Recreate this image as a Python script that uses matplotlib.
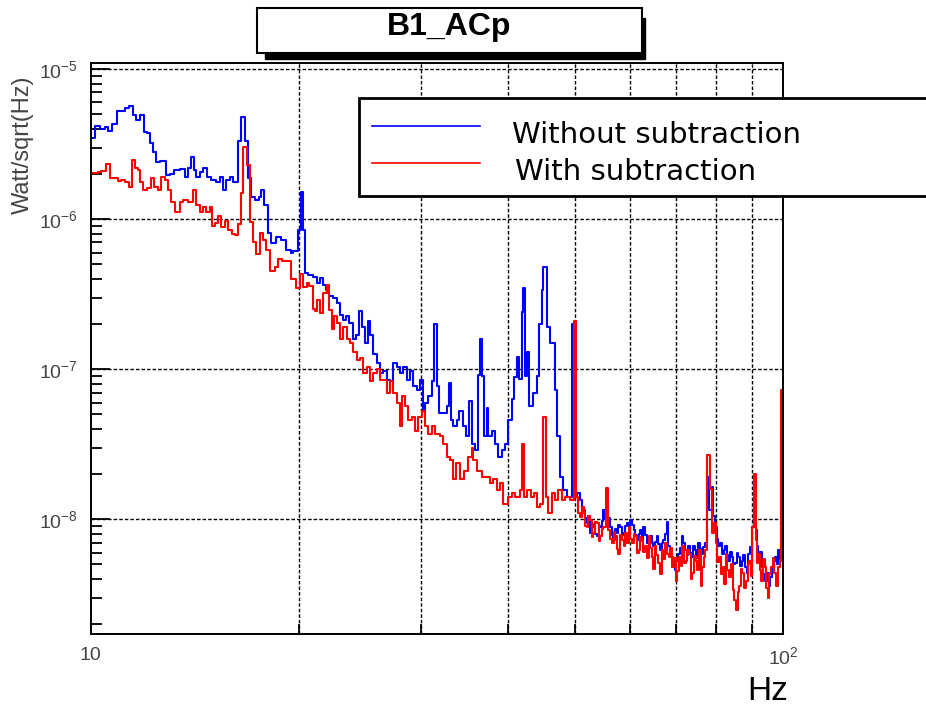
import matplotlib
matplotlib.use("Agg")
import matplotlib.pyplot as plt
from matplotlib.patches import Rectangle
from matplotlib.ticker import LogLocator, NullFormatter, FixedLocator, FixedFormatter

plt.rcParams['font.family'] = ['Liberation Sans', 'DejaVu Sans']
plt.rcParams['mathtext.fontset'] = 'custom'
plt.rcParams['mathtext.rm'] = 'Liberation Sans'
plt.rcParams['mathtext.it'] = 'Liberation Sans:italic'
plt.rcParams['mathtext.bf'] = 'Liberation Sans:bold'

# x tick labels
xtick_pos = [10, 100]
xtick_labels = ['10', '$10^{2}$']

# bin edges (Hz) and levels (Watt/sqrt(Hz))
blue_f = [10.0, 10.13, 10.3, 10.47, 10.6, 10.73, 10.92, 11.2, 11.35, 11.5, 11.64, 11.77, 11.94,
          12.07, 12.17, 12.3, 12.44, 12.58, 12.86, 13.0, 13.19, 13.44, 13.66, 13.82, 13.97, 14.09,
          14.2, 14.36, 14.52, 14.73, 14.93, 15.18, 15.35, 15.52, 15.7, 15.87, 16.05, 16.32, 16.5,
          16.68, 16.87, 17.05, 17.24, 17.47, 17.63, 17.82, 18.03, 18.22, 18.53, 18.83, 19.15, 19.47,
          19.6, 19.95, 20.1, 20.28, 20.39, 20.62, 20.96, 21.2, 21.44, 21.67, 21.87, 22.11, 22.35,
          22.65, 22.9, 23.11, 23.36, 23.63, 23.9, 24.17, 24.36, 24.62, 24.92, 25.12, 25.31, 25.59,
          25.88, 26.17, 26.46, 26.76, 27.05, 27.35, 27.66, 27.97, 28.27, 28.59, 28.9, 29.23, 29.55,
          29.88, 30.15, 30.38, 30.73, 31.08, 31.3, 31.65, 31.86, 32.66, 32.94, 33.09, 33.38, 33.76,
          34.06, 34.44, 34.83, 35.21, 35.53, 35.89, 36.28, 36.49, 36.73, 36.98, 37.31, 37.51, 37.93,
          38.35, 38.77, 39.21, 39.64, 40.09, 40.54, 40.85, 41.22, 41.57, 41.91, 42.1, 42.37, 42.7,
          42.98, 43.55, 44.06, 44.44, 44.8, 45.03, 45.63, 46.04, 46.81, 47.17, 47.6, 48.12, 48.67,
          49.6, 49.85, 50.3, 50.9, 51.2, 51.5, 51.8, 52.0, 52.3, 52.6, 52.9, 53.2, 53.5, 53.8, 54.1,
          54.4, 54.7, 55.0, 55.3, 55.6, 55.9, 56.2, 56.5, 56.8, 57.2, 57.5, 57.8, 58.1, 58.5, 58.8,
          59.1, 59.4, 59.8, 60.1, 60.4, 60.8, 61.1, 61.4, 61.8, 62.1, 62.5, 62.8, 63.2, 63.5, 63.9,
          64.2, 64.6, 64.9, 65.3, 65.7, 66.0, 66.4, 66.8, 67.1, 67.5, 67.9, 68.2, 68.6, 69.0, 69.4,
          69.8, 70.1, 70.5, 70.9, 71.3, 71.7, 72.1, 72.5, 72.9, 73.3, 73.7, 74.1, 74.5, 74.9, 75.3,
          75.8, 76.2, 76.6, 77.0, 77.7, 78.2, 78.8, 79.2, 79.7, 80.1, 80.6, 81.0, 81.5, 82.0, 82.4,
          82.9, 83.3, 83.8, 84.2, 84.7, 85.2, 85.6, 86.1, 86.6, 87.1, 87.5, 88.0, 88.5, 89.0, 89.5,
          90.0, 90.7, 91.3, 91.6, 92.0, 92.5, 93.1, 93.6, 94.1, 94.6, 95.2, 95.7, 96.2, 96.8, 97.3,
          97.9, 98.4, 98.9, 99.3]
blue_v = [3.5e-6, 4.2e-6, 4.0e-6, 4.1e-6, 3.85e-6, 4.3e-6, 5.3e-6, 5.5e-6, 5.7e-6, 4.95e-6, 4.6e-6,
          4.95e-6, 3.8e-6, 3.75e-6, 3.2e-6, 2.8e-6, 2.4e-6, 2.45e-6, 1.97e-6, 2.0e-6, 2.13e-6,
          2.15e-6, 1.92e-6, 2.2e-6, 2.6e-6, 2.13e-6, 1.9e-6, 2.05e-6, 2.2e-6, 1.92e-6, 1.83e-6,
          1.78e-6, 1.9e-6, 1.57e-6, 1.83e-6, 1.9e-6, 1.78e-6, 3.3e-6, 4.8e-6, 3.3e-6, 1.87e-6,
          1.41e-6, 1.34e-6, 1.41e-6, 1.57e-6, 1.25e-6, 8.1e-7, 6.9e-7, 7.6e-7, 7.3e-7, 6.25e-7,
          6.0e-7, 6.1e-7, 8.5e-7, 1.53e-6, 8.5e-7, 4.35e-7, 4.25e-7, 4.15e-7, 3.75e-7, 4.05e-7,
          3.65e-7, 3.4e-7, 3.1e-7, 2.97e-7, 2.76e-7, 2.3e-7, 2.13e-7, 2.25e-7, 2.03e-7, 1.58e-7,
          1.7e-7, 2.43e-7, 1.9e-7, 1.5e-7, 2.1e-7, 1.7e-7, 1.27e-7, 1.1e-7, 9.4e-8, 9.7e-8, 8.5e-8,
          8.3e-8, 1.1e-7, 1.03e-7, 9.4e-8, 1.03e-7, 8.5e-8, 9.7e-8, 7.7e-8, 7.3e-8, 8.5e-8, 5.3e-8,
          6.0e-8, 6.6e-8, 8.3e-8, 2.0e-7, 7.7e-8, 5.1e-8, 5.7e-8, 8.1e-8, 4.6e-8, 4.2e-8, 4.6e-8,
          5.3e-8, 4.2e-8, 3.6e-8, 6.1e-8, 3.2e-8, 2.9e-8, 9.2e-8, 1.6e-7, 9.0e-8, 3.6e-8, 5.5e-8,
          3.6e-8, 3.9e-8, 3.2e-8, 2.6e-8, 2.9e-8, 3.2e-8, 4.6e-8, 6.3e-8, 8.9e-8, 1.2e-7, 8.6e-8,
          2.4e-7, 3.5e-7, 9.0e-8, 1.3e-7, 5.7e-8, 6.9e-8, 9.0e-8, 2.0e-7, 3.4e-7, 4.8e-7, 1.9e-7,
          1.5e-7, 7.3e-8, 3.6e-8, 1.9e-8, 1.58e-8, 1.4e-8, 2.0e-7, 1.42e-8, 1.5e-8, 1.35e-8,
          1.2e-8, 1.15e-8, 1.02e-8, 9.4e-9, 1.06e-8, 8.1e-9, 9.3e-9, 8.9e-9, 8.0e-9, 7.7e-9, 9.0e-9,
          8.9e-9, 9.8e-9, 1.15e-8, 1.0e-8, 1.35e-8, 1.02e-8, 8.9e-9, 7.9e-9, 7.3e-9, 8.6e-9, 8.1e-9,
          9.2e-9, 8.9e-9, 7.8e-9, 8.1e-9, 9.0e-9, 9.4e-9, 8.4e-9, 9.9e-9, 9.2e-9, 8.5e-9, 7.8e-9,
          7.3e-9, 8.0e-9, 8.5e-9, 7.2e-9, 8.9e-9, 7.9e-9, 6.9e-9, 7.4e-9, 7.7e-9, 6.9e-9, 6.6e-9,
          7.1e-9, 7.7e-9, 6.8e-9, 6.2e-9, 6.9e-9, 7.3e-9, 8.0e-9, 9.6e-9, 6.6e-9, 6.1e-9, 5.6e-9,
          5.0e-9, 4.6e-9, 5.3e-9, 5.9e-9, 6.4e-9, 7.7e-9, 6.9e-9, 6.2e-9, 5.8e-9, 6.6e-9, 6.0e-9,
          5.6e-9, 6.6e-9, 6.2e-9, 5.5e-9, 6.9e-9, 6.3e-9, 5.9e-9, 6.5e-9, 6.9e-9, 1.92e-8, 1.15e-8,
          1.65e-8, 1.05e-8, 8.9e-9, 7.4e-9, 6.6e-9, 7.0e-9, 5.9e-9, 6.2e-9, 6.6e-9, 5.8e-9, 5.3e-9,
          6.1e-9, 5.6e-9, 5.0e-9, 5.1e-9, 6.0e-9, 5.6e-9, 4.9e-9, 5.3e-9, 5.8e-9, 4.8e-9, 4.4e-9,
          5.9e-9, 6.5e-9, 8.9e-9, 1.98e-8, 8.5e-9, 6.6e-9, 5.6e-9, 6.1e-9, 4.8e-9, 4.3e-9, 3.9e-9,
          4.4e-9, 3.6e-9, 4.1e-9, 4.8e-9, 5.3e-9, 5.6e-9, 5.0e-9, 6.2e-9, 5.4e-9, 3.6e-8]

red_f = [10.0, 10.24, 10.36, 10.53, 10.65, 10.95, 11.07, 11.19, 11.35, 11.47, 11.58, 11.7, 11.77,
         11.9, 12.07, 12.23, 12.34, 12.5, 12.62, 12.81, 12.93, 13.05, 13.22, 13.44, 13.59, 13.82,
         14.05, 14.2, 14.36, 14.52, 14.68, 14.85, 14.96, 15.13, 15.27, 15.44, 15.62, 15.79, 15.97,
         16.15, 16.32, 16.47, 16.6, 16.83, 16.97, 17.15, 17.34, 17.53, 17.73, 17.93, 18.13, 18.44,
         18.65, 18.9, 19.48, 19.81, 20.05, 20.28, 20.5, 20.69, 20.92, 21.08, 21.24, 21.44, 21.67,
         21.91, 22.11, 22.3, 22.45, 22.65, 22.9, 23.15, 23.42, 23.68, 23.94, 24.21, 24.48, 24.75,
         25.03, 25.31, 25.59, 25.88, 26.17, 26.76, 27.05, 27.35, 27.66, 27.97, 28.12, 28.43, 28.74,
         29.07, 29.39, 29.72, 30.06, 30.38, 30.73, 31.08, 31.41, 31.93, 32.3, 32.66, 33.02, 33.38,
         33.68, 34.13, 34.59, 35.1, 35.49, 35.69, 36.16, 36.69, 37.71, 38.13, 38.56, 38.99, 39.42,
         40.09, 40.54, 41.0, 41.69, 41.91, 42.27, 42.7, 43.18, 43.65, 44.13, 44.54, 45.03, 45.43,
         45.78, 46.3, 46.81, 47.33, 47.86, 48.39, 49.2, 49.8, 50.25, 50.6, 50.9, 51.2, 51.5, 51.8,
         52.0, 52.3, 52.6, 52.9, 53.2, 53.5, 53.8, 54.1, 54.4, 54.7, 55.0, 55.4, 55.9, 56.2, 56.5,
         56.9, 57.2, 57.5, 57.8, 58.1, 58.4, 58.8, 59.1, 59.4, 59.8, 60.1, 60.4, 60.8, 61.1, 61.5,
         61.8, 62.1, 62.5, 62.8, 63.2, 63.5, 63.9, 64.2, 64.6, 64.9, 65.3, 65.6, 66.0, 66.4, 66.8,
         67.1, 67.5, 67.9, 68.3, 68.7, 69.1, 69.5, 69.9, 70.3, 70.7, 71.1, 71.5, 71.9, 72.3, 72.7,
         73.1, 73.5, 73.9, 74.3, 74.7, 75.1, 75.5, 76.0, 76.4, 76.8, 77.2, 77.7, 78.3, 78.8, 79.3,
         79.9, 80.3, 80.8, 81.2, 81.7, 82.1, 82.6, 83.0, 83.5, 84.0, 84.5, 84.9, 85.4, 85.9, 86.4,
         86.8, 87.3, 87.8, 88.3, 88.8, 89.3, 89.8, 90.2, 90.8, 91.3, 91.7, 92.0, 92.5, 93.0, 93.5,
         94.0, 94.5, 95.0, 95.5, 96.0, 96.5, 97.0, 97.6, 98.2, 98.8, 99.3]
red_v = [2.03e-6, 2.08e-6, 2.1e-6, 2.33e-6, 1.88e-6, 1.8e-6, 1.84e-6, 1.78e-6, 1.65e-6, 2.48e-6,
         2.19e-6, 2.13e-6, 1.76e-6, 1.57e-6, 1.62e-6, 1.88e-6, 1.65e-6, 1.57e-6, 1.9e-6, 1.84e-6,
         1.57e-6, 1.31e-6, 1.12e-6, 1.31e-6, 1.34e-6, 1.31e-6, 1.57e-6, 1.25e-6, 1.11e-6, 1.2e-6,
         1.12e-6, 1.2e-6, 9.0e-7, 9.5e-7, 1.05e-6, 8.9e-7, 9.7e-7, 8.5e-7, 8.0e-7, 7.9e-7, 9.3e-7,
         1.49e-6, 3.05e-6, 2.3e-6, 9.6e-7, 7.1e-7, 5.9e-7, 8.1e-7, 7.3e-7, 6.25e-7, 4.5e-7, 4.8e-7,
         5.4e-7, 5.3e-7, 4.0e-7, 3.5e-7, 4.3e-7, 3.55e-7, 3.75e-7, 3.6e-7, 2.53e-7, 2.43e-7, 2.9e-7,
         2.37e-7, 3.2e-7, 3.65e-7, 2.5e-7, 1.85e-7, 2.25e-7, 2.03e-7, 1.6e-7, 1.9e-7, 1.58e-7,
         1.5e-7, 1.3e-7, 1.15e-7, 1.18e-7, 9.4e-8, 1.03e-7, 8.3e-8, 9.4e-8, 1.0e-7, 8.5e-8, 6.9e-8,
         8.3e-8, 6.9e-8, 6.0e-8, 4.2e-8, 6.6e-8, 5.7e-8, 4.6e-8, 4.8e-8, 3.9e-8, 4.8e-8, 5.3e-8,
         4.2e-8, 3.7e-8, 4.2e-8, 3.7e-8, 3.6e-8, 3.2e-8, 2.6e-8, 2.5e-8, 1.85e-8, 2.36e-8, 1.85e-8,
         2.1e-8, 2.6e-8, 3.0e-8, 2.5e-8, 2.1e-8, 1.9e-8, 1.75e-8, 1.85e-8, 1.58e-8, 1.75e-8,
         1.27e-8, 1.4e-8, 1.5e-8, 1.4e-8, 1.58e-8, 3.2e-8, 1.4e-8, 1.58e-8, 1.4e-8, 1.5e-8, 1.2e-8,
         1.27e-8, 4.8e-8, 1.4e-8, 1.1e-8, 1.5e-8, 1.35e-8, 1.58e-8, 1.35e-8, 1.4e-8, 1.35e-8,
         2.1e-7, 1.4e-8, 1.1e-8, 1.04e-8, 1.2e-8, 1.1e-8, 9.0e-9, 8.9e-9, 1.05e-8, 9.9e-9, 7.6e-9,
         8.1e-9, 9.6e-9, 9.4e-9, 7.2e-9, 7.7e-9, 8.6e-9, 8.9e-9, 1.61e-8, 8.5e-9, 7.4e-9, 6.9e-9,
         8.2e-9, 7.7e-9, 6.3e-9, 5.9e-9, 7.8e-9, 7.3e-9, 6.6e-9, 8.1e-9, 7.0e-9, 8.9e-9, 7.4e-9,
         6.9e-9, 8.0e-9, 7.7e-9, 6.0e-9, 6.2e-9, 7.6e-9, 7.3e-9, 6.1e-9, 6.6e-9, 5.5e-9, 7.7e-9,
         6.4e-9, 5.6e-9, 4.7e-9, 6.6e-9, 5.8e-9, 5.1e-9, 4.3e-9, 6.2e-9, 5.4e-9, 6.9e-9, 5.9e-9,
         5.6e-9, 6.4e-9, 4.8e-9, 5.5e-9, 3.9e-9, 4.5e-9, 5.6e-9, 4.9e-9, 6.6e-9, 5.1e-9, 5.3e-9,
         6.2e-9, 5.9e-9, 4.0e-9, 4.4e-9, 5.7e-9, 5.3e-9, 4.6e-9, 6.2e-9, 3.6e-9, 4.8e-9, 5.6e-9,
         6.2e-9, 2.7e-8, 1.6e-8, 8.1e-9, 9.5e-9, 6.9e-9, 5.2e-9, 5.6e-9, 4.3e-9, 4.8e-9, 3.7e-9,
         5.9e-9, 4.6e-9, 4.1e-9, 5.0e-9, 3.4e-9, 2.9e-9, 2.5e-9, 3.3e-9, 3.6e-9, 4.7e-9, 4.4e-9,
         3.5e-9, 3.9e-9, 5.0e-9, 5.3e-9, 4.2e-9, 8.9e-9, 2.0e-8, 7.3e-9, 5.1e-9, 5.9e-9, 4.6e-9,
         3.9e-9, 5.4e-9, 4.8e-9, 3.5e-9, 3.0e-9, 4.3e-9, 4.8e-9, 5.5e-9, 4.4e-9, 3.6e-9, 4.8e-9,
         5.3e-9, 7.3e-8]

fig = plt.figure(figsize=(9.26, 7.08), dpi=100)
W, H = 926, 708
ax = fig.add_axes([90.7 / W, 1 - 634 / H, (783.3 - 90.7) / W, (634 - 63) / H])

ax.step(blue_f + [100], blue_v + [blue_v[-1]], where='post', color='#0000ff', lw=1.5)
ax.step(red_f + [100], red_v + [red_v[-1]], where='post', color='#ff0000', lw=1.5)

ax.set_xscale('log')
ax.set_yscale('log')
ax.set_xlim(10, 100)
ax.set_ylim(1.72e-9, 1.1e-5)

ax.xaxis.set_major_locator(FixedLocator(xtick_pos))
ax.xaxis.set_major_formatter(FixedFormatter(xtick_labels))
ax.xaxis.set_minor_locator(LogLocator(base=10, subs=range(2, 10)))
ax.xaxis.set_minor_formatter(NullFormatter())
ax.yaxis.set_major_locator(LogLocator(base=10))
ax.yaxis.set_minor_locator(LogLocator(base=10, subs=range(2, 10), numticks=20))
ax.yaxis.set_minor_formatter(NullFormatter())

grid_style = dict(color='black', lw=1.0, ls=(0, (2.5, 1.5)))
ax.grid(True, which='major', axis='y', **grid_style)
ax.grid(True, which='minor', axis='x', **grid_style)

ax.tick_params(axis='y', which='major', direction='in', length=14, width=1.3, pad=9,
               labelsize=14, labelcolor='#444444', right=False)
ax.tick_params(axis='y', which='minor', direction='in', length=8, width=1.3, right=False)
ax.tick_params(axis='x', which='major', direction='in', length=8, width=1.3, pad=9,
               labelsize=14, labelcolor='#444444', top=False)
ax.tick_params(axis='x', which='minor', direction='in', length=7, width=1.3, top=False)
for sp in ax.spines.values():
    sp.set_linewidth(1.4)

# y label and x label
fig.text(23 / W, 1 - 145 / H, 'Watt/sqrt(Hz)', rotation=90, ha='center', va='center',
         fontsize=17, color='#444444')
fig.text(768 / W, 1 - 692 / H, 'Hz', ha='center', va='center', fontsize=24, color='black')

# title box with shadow
fig.patches.append(Rectangle((265 / W, 1 - 59 / H), 380 / W, 41 / H, transform=fig.transFigure,
                             facecolor='black', edgecolor='black', zorder=5))
fig.patches.append(Rectangle((257 / W, 1 - 53 / H), 385 / W, 45 / H, transform=fig.transFigure,
                             facecolor='white', edgecolor='black', lw=1.5, zorder=6))
fig.text(449 / W, 1 - 27 / H, 'B1_ACp', ha='center', va='center', fontsize=23,
         fontweight='bold', zorder=7)

# legend box
fig.patches.append(Rectangle((359 / W, 1 - 196 / H), 580 / W, 98 / H, transform=fig.transFigure,
                             facecolor='white', edgecolor='black', lw=2, zorder=5,
                             clip_on=False))
fig.lines.append(plt.Line2D([372 / W, 480 / W], [1 - 126 / H, 1 - 126 / H],
                            transform=fig.transFigure, color='#0000ff', lw=1.2, zorder=6))
fig.lines.append(plt.Line2D([372 / W, 480 / W], [1 - 163 / H, 1 - 163 / H],
                            transform=fig.transFigure, color='#ff0000', lw=1.2, zorder=6))
fig.text(512 / W, 1 - 143 / H, 'Without subtraction', ha='left', va='baseline',
         fontsize=21, family='DejaVu Sans', zorder=7)
fig.text(515 / W, 1 - 180 / H, 'With subtraction', ha='left', va='baseline',
         fontsize=21, family='DejaVu Sans', zorder=7)

fig.savefig('out.png', dpi=100)
